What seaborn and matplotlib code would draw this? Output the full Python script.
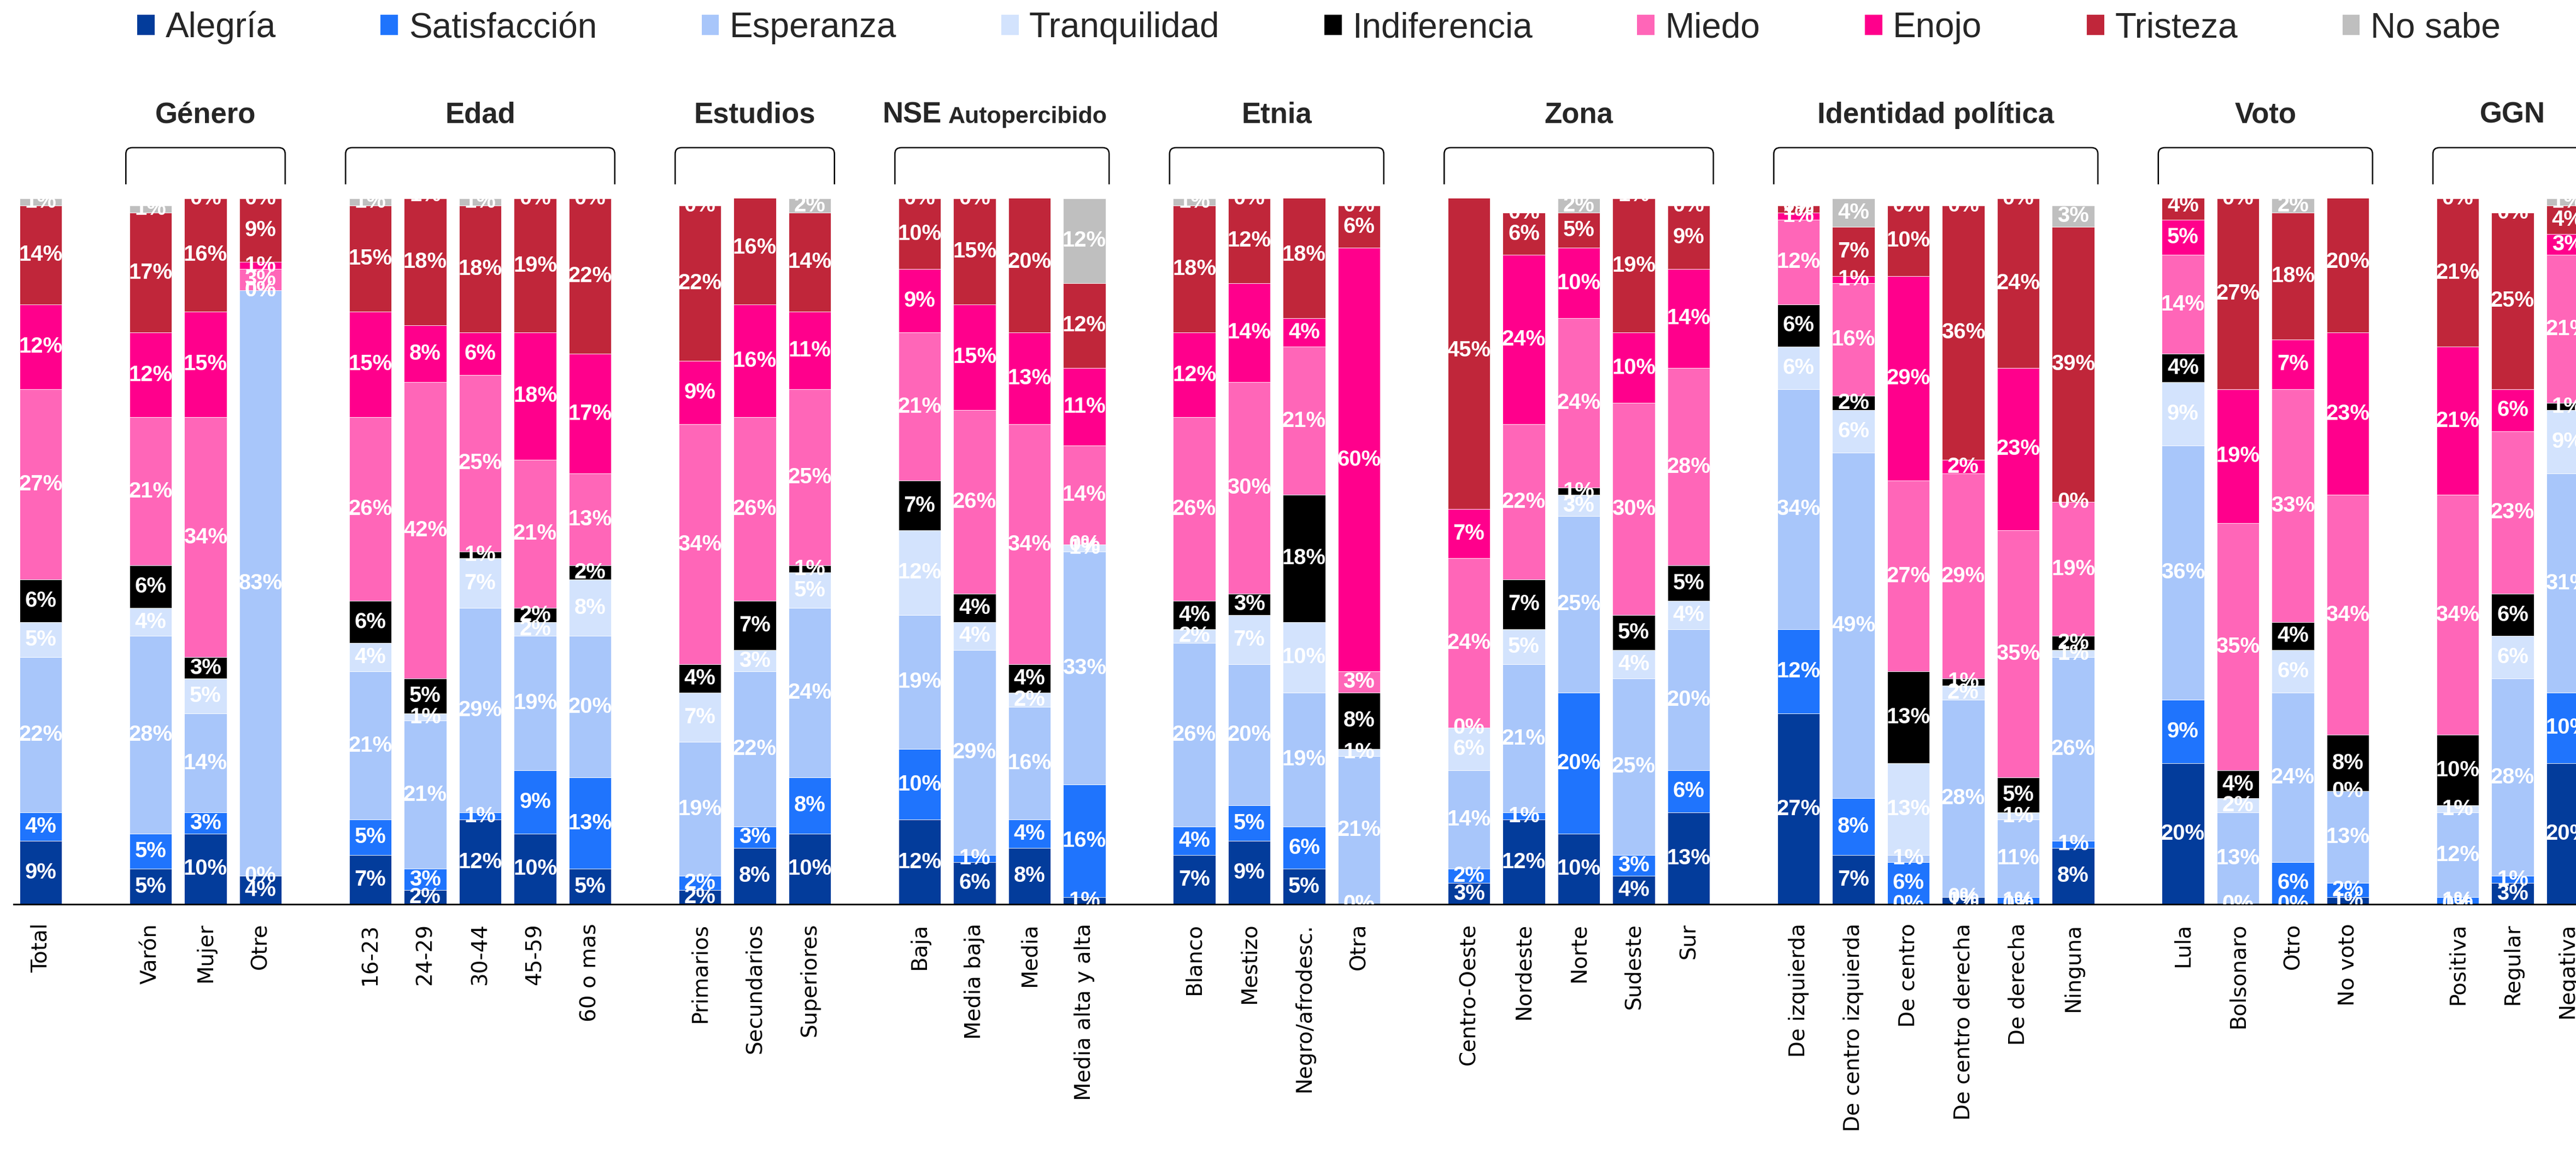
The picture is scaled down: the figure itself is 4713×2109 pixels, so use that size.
import numpy as np
import pandas as pd
import matplotlib
matplotlib.use("Agg")
import matplotlib.pyplot as plt
from matplotlib import font_manager
from matplotlib.path import Path
from matplotlib.patches import PathPatch, Patch
import seaborn as sns

# ---------------------------------------------------------------- data
categories = [
    "Total",
    "Varón", "Mujer", "Otre",
    "16-23", "24-29", "30-44", "45-59", "60 o mas",
    "Primarios", "Secundarios", "Superiores",
    "Baja", "Media baja", "Media", "Media alta y alta",
    "Blanco", "Mestizo", "Negro/afrodesc.", "Otra",
    "Centro-Oeste", "Nordeste", "Norte", "Sudeste", "Sur",
    "De izquierda", "De centro izquierda", "De centro", "De centro derecha",
    "De derecha", "Ninguna",
    "Lula", "Bolsonaro", "Otro", "No voto",
    "Positiva", "Regular", "Negativa",
]
group_titles = ["", "Género", "Edad", "Estudios", "NSE", "Etnia", "Zona",
                "Identidad política", "Voto", "GGN"]
group_sizes = [1, 3, 5, 3, 4, 4, 5, 6, 4, 3]

emotions = ["Alegría", "Satisfacción", "Esperanza", "Tranquilidad",
            "Indiferencia", "Miedo", "Enojo", "Tristeza", "No sabe"]

alegria = [9, 5, 10, 4, 7, 2, 12, 10, 5, 2, 8, 10, 12, 6, 8, 1, 7, 9, 5, 0,
           3, 12, 10, 4, 13, 27, 7, 0, 1, 0, 8, 20, 0, 0, 1, 0, 3, 20]
satisfaccion = [4, 5, 3, 0, 5, 3, 1, 9, 13, 2, 3, 8, 10, 1, 4, 16, 4, 5, 6, 0,
                2, 1, 20, 3, 6, 12, 8, 6, 0, 1, 1, 9, 0, 6, 2, 1, 1, 10]
esperanza = [22, 28, 14, 83, 21, 21, 29, 19, 20, 19, 22, 24, 19, 29, 16, 33,
             26, 20, 19, 21, 14, 21, 25, 25, 20, 34, 49, 1, 28, 11, 26,
             36, 13, 24, 13, 12, 28, 31]
tranquilidad = [5, 4, 5, 0, 4, 1, 7, 2, 8, 7, 3, 5, 12, 4, 2, 1, 2, 7, 10, 1,
                6, 5, 3, 4, 4, 6, 6, 13, 2, 1, 1, 9, 2, 6, 0, 1, 6, 9]
indiferencia = [6, 6, 3, 0, 6, 5, 1, 2, 2, 4, 7, 1, 7, 4, 4, 0, 4, 3, 18, 8,
                0, 7, 1, 5, 5, 6, 2, 13, 1, 5, 2, 4, 4, 4, 8, 10, 6, 1]
miedo = [27, 21, 34, 3, 26, 42, 25, 21, 13, 34, 26, 25, 21, 26, 34, 14,
         26, 30, 21, 3, 24, 22, 24, 30, 28, 12, 16, 27, 29, 35, 19,
         14, 35, 33, 34, 34, 23, 21]
enojo = [12, 12, 15, 1, 15, 8, 6, 18, 17, 9, 16, 11, 9, 15, 13, 11,
         12, 14, 4, 60, 7, 24, 10, 10, 14, 1, 1, 29, 2, 23, 0,
         5, 19, 7, 23, 21, 6, 3]
tristeza = [14, 17, 16, 9, 15, 18, 18, 19, 22, 22, 16, 14, 10, 15, 20, 12,
            18, 12, 18, 6, 45, 6, 5, 19, 9, 1, 7, 10, 36, 24, 39,
            4, 27, 18, 20, 21, 25, 4]
no_sabe = [1, 1, 0, 0, 1, 1, 1, 0, 0, 0, 0, 2, 0, 0, 0, 12, 1, 0, 0, 0,
           0, 0, 2, 1, 0, 0, 4, 0, 0, 0, 3, 1, 0, 2, 0, 0, 0, 1]

series = [alegria, satisfaccion, esperanza, tranquilidad, indiferencia,
          miedo, enojo, tristeza, no_sabe]
palette = ["#033C9B", "#1F74FD", "#A8C6FA", "#D3E3FD", "#000000",
           "#FF66B8", "#FF008C", "#C0263A", "#BFBFBF"]

# ---------------------------------------------------------------- layout
# one empty slot between consecutive groups
slots = []
group_slots = []
pos = 0
for size in group_sizes:
    members = list(range(pos, pos + size))
    slots.extend(members)
    group_slots.append(members)
    pos += size + 1
slots = np.array(slots, dtype=float)

sns.set_theme(style="white")
plt.rcParams["font.family"] = ["DejaVu Sans"]

available = {f.name for f in font_manager.fontManager.ttflist}
value_family = ("Liberation Sans Narrow" if "Liberation Sans Narrow" in available
                else "Liberation Sans")
head_family = "Liberation Sans" if "Liberation Sans" in available else "DejaVu Sans"

W, H = 4713, 2109
fig = plt.figure(figsize=(W / 100, H / 100), dpi=100)
fig.patch.set_facecolor("white")

# value label size: a two-digit label spans about one bar width
renderer = fig.canvas.get_renderer()
probe = fig.text(0, 0, "27%", fontsize=30, fontweight="bold", family=value_family)
probe_w = probe.get_window_extent(renderer).width
probe.remove()
value_size = min(35, 30 * 80 / probe_w)

left_px, base_px, top_px = 25, 1654, 363
slot_px, first_center_px = 100.5, 74.5
ax = fig.add_axes([left_px / W, (H - base_px) / H,
                   1 - left_px / W, (base_px - top_px) / H])

df = pd.DataFrame({"slot": slots, "categoria": categories})
bottom = np.zeros(len(categories))
for name, vals, color in zip(emotions, series, palette):
    vals = np.asarray(vals, dtype=float)
    df[name] = vals
    sns.barplot(x=df["slot"], y=df[name], bottom=bottom, native_scale=True,
                width=0.77, color=color, saturation=1, errorbar=None,
                edgecolor="white", linewidth=0.6, ax=ax)
    for xs, b, v in zip(slots, bottom, vals):
        ax.text(xs, b + v / 2, f"{v:.0f}%", ha="center", va="center",
                color="white", fontsize=value_size, fontweight="bold",
                family=value_family, clip_on=True)
    bottom = bottom + vals

if ax.get_legend() is not None:
    ax.get_legend().remove()

x_left = (left_px - first_center_px) / slot_px
x_right = x_left + (W - left_px) / slot_px
ax.set_xlim(x_left, x_right)
ax.set_ylim(0, 100)
ax.set_yticks([])
ax.set_xlabel("")
ax.set_ylabel("")
for side in ["top", "left", "right"]:
    ax.spines[side].set_visible(False)
ax.spines["bottom"].set_color("black")
ax.spines["bottom"].set_linewidth(2.2)

ax.set_xticks(slots)
ax.set_xticklabels(categories, rotation=90, fontsize=28, va="top",
                   ha="center", color="black")
ax.tick_params(axis="x", length=0, pad=25)

# ---------------------------------------------------------------- group headers
y_low, y_top, y_title = 102.0, 107.2, 110.7
rx, ry = 0.12, 0.9
for title, members in zip(group_titles, group_slots):
    if not title:
        continue
    x0, x1 = members[0] - 0.45, members[-1] + 0.45
    verts = [(x0, y_low), (x0, y_top - ry), (x0, y_top), (x0 + rx, y_top),
             (x1 - rx, y_top), (x1, y_top), (x1, y_top - ry), (x1, y_low)]
    codes = [Path.MOVETO, Path.LINETO, Path.CURVE3, Path.CURVE3,
             Path.LINETO, Path.CURVE3, Path.CURVE3, Path.LINETO]
    ax.add_patch(PathPatch(Path(verts, codes), facecolor="none",
                           edgecolor="black", linewidth=1.8, clip_on=False))
    center = np.mean(members)
    if title == "NSE":
        join = center - 1.04
        ax.text(join - 0.06, y_title, "NSE", ha="right", va="baseline",
                fontsize=38, fontweight="bold", family=head_family,
                clip_on=False)
        ax.text(join + 0.06, y_title, "Autopercibido", ha="left",
                va="baseline", fontsize=31, fontweight="bold",
                family=head_family, clip_on=False)
    else:
        ax.text(center, y_title, title, ha="center", va="baseline",
                fontsize=38, fontweight="bold", family=head_family,
                clip_on=False)

# ---------------------------------------------------------------- legend
handles = [Patch(facecolor=c, edgecolor="none") for c in palette]
fig.legend(handles, emotions, loc="center", bbox_to_anchor=(0.512, 0.976),
           ncol=len(emotions), frameon=False,
           prop={"family": head_family, "size": 46},
           handlelength=0.5, handleheight=0.5, handletextpad=0.3,
           columnspacing=3.0)

fig.savefig("out.png", dpi=100, facecolor="white")
